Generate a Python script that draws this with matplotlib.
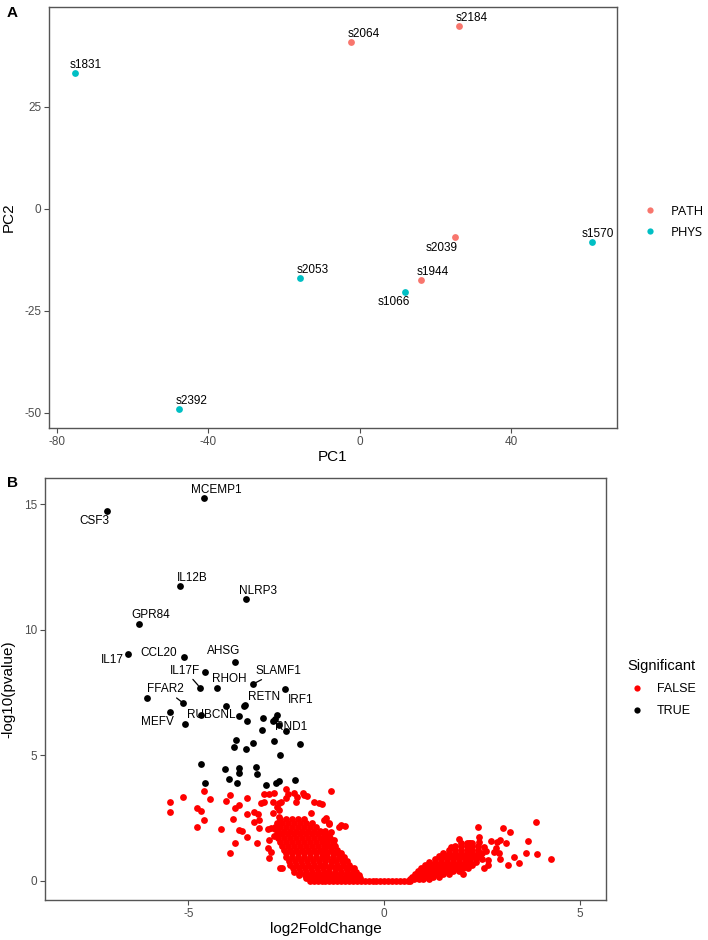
import matplotlib
matplotlib.use("Agg")
import matplotlib.pyplot as plt
from matplotlib.lines import Line2D

plt.rcParams["font.family"] = ["Liberation Sans", "DejaVu Sans"]
plt.rcParams["axes.unicode_minus"] = False

# ---- panel A: PCA ----
samples = ["s1831", "s2064", "s2184", "s2039", "s1570", "s1944", "s1066", "s2053", "s2392"]
groups = ["PHYS", "PATH", "PATH", "PATH", "PHYS", "PATH", "PHYS", "PHYS", "PHYS"]
pc1 = [-75.2, -2.2, 26.2, 25.1, 61.3, 16.2, 12.1, -15.9, -47.7]
pc2 = [33.3, 41.0, 44.9, -7.0, -8.2, -17.4, -20.3, -17.0, -49.1]

# ---- panel B: volcano, significant genes ----
sig_lfc = [-4.60, -7.07, -5.22, -3.54, -6.27, -6.54, -5.12, -3.80, -4.57, -4.70,
           -4.28, -3.34, -2.53, -6.06, -5.13, -3.58, -3.55, -4.04, -5.48, -5.08,
           -4.67, -3.70, -3.50, -3.10, -3.12, -2.75, -2.84, -2.79, -2.69, -2.50,
           -3.78, -3.83, -3.53, -3.34, -2.81, -2.14, -2.65, -4.68, -4.06, -3.71,
           -3.71, -3.27, -3.26, -3.96, -4.57, -3.75, -3.01, -2.77, -2.69, -2.27]
sig_p = [15.27, 14.74, 11.73, 11.24, 10.25, 9.03, 8.90, 8.74, 8.34, 7.70,
         7.68, 7.85, 7.66, 7.29, 7.08, 6.95, 7.00, 6.96, 6.71, 6.27,
         6.60, 6.55, 6.37, 6.47, 6.03, 6.61, 6.39, 6.45, 6.22, 5.99,
         5.61, 5.33, 5.24, 5.51, 5.59, 5.46, 5.02, 4.64, 4.46, 4.50,
         4.29, 4.55, 4.25, 4.05, 3.90, 3.90, 3.84, 3.92, 4.00, 4.01]
sig_names = {0: "MCEMP1", 1: "CSF3", 2: "IL12B", 3: "NLRP3", 4: "GPR84", 5: "IL17",
             6: "CCL20", 7: "AHSG", 9: "IL17F", 10: "RHOH", 11: "SLAMF1", 12: "IRF1",
             14: "FFAR2", 15: "RETN", 18: "MEFV", 20: "RUBCNL", 28: "RND1"}

# ---- panel B: non-significant genes (scattered ones) ----
ns_lfc = [-5.47, -5.48, -5.14, -4.78, -4.69, -4.59, -4.78, -4.59, -4.44, -4.18,
          -4.04, -3.94, -3.94, -3.87, -3.81, -3.81, -3.70, -3.72, -3.64, -3.50,
          -3.50, -3.50, -3.33, -3.23, -3.32, -3.19, -3.21, -3.25, -3.08, -2.93,
          -2.81, -3.15, -3.06, -2.85, -2.74, -2.97, -2.90, -2.80, -2.72, -2.96,
          -2.89, -2.93, -2.65, -2.93, -2.81, -2.68, -2.68, -2.68, -2.62, -2.51,
          -2.46, -2.50, -2.63, -2.30, -2.07, -2.23, -2.25, -2.04, -1.96, -1.79,
          -1.67, -1.60, -1.36, -1.87, -1.53, -1.49, -1.40, -1.36, -1.10, -1.15,
          -1.28, -1.28, -1.42, -2.85, -1.00,
          3.87, 2.38, 3.02, 3.21, 2.41, 1.91, 2.72, 2.95, 3.10, 3.67,
          1.70, 2.19, 2.93, 3.61, 3.91, 4.25, 2.96, 3.30, 3.15, 3.43,
          2.64, 2.64, 2.55, 2.00, 2.80, 2.85, 2.55, 2.45, 2.60, 2.89,
          2.42, 2.17]
ns_p = [3.13, 2.74, 3.34, 2.89, 2.80, 2.42, 2.14, 3.57, 3.27, 2.07,
        3.20, 3.43, 1.13, 2.47, 2.92, 1.53, 3.03, 2.04, 2.00, 3.30,
        2.66, 1.74, 2.76, 2.65, 2.36, 2.43, 2.10, 1.53, 3.47, 3.47,
        3.51, 3.10, 3.16, 2.70, 2.94, 2.07, 2.10, 2.05, 2.10, 1.30,
        1.17, 0.90, 0.51, 1.63, 1.77, 3.10, 2.83, 2.56, 0.51, 3.65,
        3.47, 3.32, 3.13, 3.49, 3.52, 3.33, 3.16, 3.43, 3.39, 3.16,
        3.10, 3.05, 3.60, 2.72, 2.43, 2.50, 2.30, 1.96, 2.23, 2.16,
        1.63, 1.43, 2.27, 3.16, 2.19,
        2.36, 2.14, 2.10, 1.94, 1.73, 1.66, 1.61, 1.63, 1.50, 1.58,
        1.34, 1.53, 1.10, 1.10, 1.06, 0.86, 0.86, 0.94, 0.64, 0.70,
        0.84, 0.64, 0.51, 0.28, 1.15, 1.30, 1.35, 1.00, 1.20, 1.56,
        1.57, 1.53]

# ---- panel B: dense non-significant cloud, listed row by row (-log10 p, lfc values) ----
cloud_rows = [
    (2.45, [-2.65, -2.5, -2.35, -2.2, -2.05]),
    (2.30, [-2.75, -2.6, -2.45, -2.3, -2.15, -2.0, -1.85]),
    (2.15, [-2.8, -2.65, -2.5, -2.35, -2.2, -2.05, -1.9, -1.75]),
    (2.00, [-2.7, -2.55, -2.4, -2.25, -2.1, -1.95, -1.8, -1.65, -1.5]),
    (1.85, [-2.75, -2.6, -2.45, -2.3, -2.15, -2.0, -1.85, -1.7, -1.55, -1.42]),
    (1.70, [-2.7, -2.55, -2.4, -2.25, -2.1, -1.95, -1.8, -1.65, -1.5, -1.38]),
    (1.55, [-2.65, -2.5, -2.35, -2.2, -2.05, -1.9, -1.75, -1.6, -1.45, -1.32]),
    (1.40, [-2.6, -2.45, -2.3, -2.15, -2.0, -1.85, -1.7, -1.55, -1.4, -1.26]),
    (1.25, [-2.55, -2.4, -2.25, -2.1, -1.95, -1.8, -1.65, -1.5, -1.35, -1.2]),
    (1.10, [-2.5, -2.35, -2.2, -2.05, -1.9, -1.75, -1.6, -1.45, -1.3, -1.17, -1.1]),
    (0.95, [-2.5, -2.35, -2.2, -2.05, -1.9, -1.75, -1.6, -1.45, -1.3, -1.15, -1.02]),
    (0.80, [-2.42, -2.27, -2.12, -1.97, -1.82, -1.67, -1.52, -1.37, -1.22, -1.07, -0.95]),
    (0.65, [-2.4, -2.25, -2.1, -1.95, -1.8, -1.65, -1.5, -1.35, -1.2, -1.05, -0.9]),
    (0.50, [-2.32, -2.17, -2.02, -1.87, -1.72, -1.57, -1.42, -1.27, -1.12, -0.97, -0.85, -0.78]),
    (0.35, [-2.3, -2.15, -2.0, -1.85, -1.7, -1.55, -1.4, -1.25, -1.1, -0.95, -0.8, -0.72]),
    (0.22, [-2.18, -2.03, -1.88, -1.73, -1.58, -1.43, -1.28, -1.13, -0.98, -0.84, -0.7, -0.65]),
    (0.10, [-2.0, -1.85, -1.7, -1.55, -1.4, -1.25, -1.1, -0.95, -0.8, -0.68, -0.62]),
    (0.00, [-1.9, -1.8, -1.7, -1.6, -1.5, -1.4, -1.3, -1.2, -1.1, -1.0, -0.9, -0.8, -0.7,
            -0.6, -0.5, -0.4, -0.3, -0.2, -0.1, 0.0, 0.1, 0.2, 0.3, 0.4, 0.5, 0.6, 0.65]),
    (0.07, [0.65, 0.75, 0.88, 1.0, 1.15]),
    (0.16, [0.7, 0.82, 0.95, 1.1, 1.25, 1.4]),
    (0.28, [0.78, 0.92, 1.05, 1.2, 1.35, 1.5, 1.65]),
    (0.40, [0.85, 1.0, 1.15, 1.3, 1.45, 1.6, 1.75, 1.9]),
    (0.52, [0.95, 1.1, 1.25, 1.4, 1.55, 1.7, 1.85, 2.0, 2.15]),
    (0.64, [1.05, 1.2, 1.35, 1.5, 1.65, 1.8, 1.95, 2.1, 2.25]),
    (0.76, [1.15, 1.3, 1.45, 1.6, 1.75, 1.9, 2.05, 2.2, 2.35]),
    (0.88, [1.3, 1.45, 1.6, 1.75, 1.9, 2.05, 2.2, 2.35, 2.5]),
    (1.00, [1.4, 1.55, 1.7, 1.85, 2.0, 2.15, 2.3, 2.45]),
    (1.12, [1.5, 1.65, 1.8, 1.95, 2.1, 2.25, 2.4, 2.5]),
    (1.25, [1.65, 1.8, 1.95, 2.1, 2.25, 2.4]),
    (1.38, [1.8, 1.95, 2.1, 2.25, 2.4]),
    (1.50, [1.95, 2.1, 2.25]),
]

group_colors = {"PATH": "#F8766D", "PHYS": "#00BFC4"}
tick_color = "#4D4D4D"
frame_color = "#555555"
dot = 24

fig = plt.figure(figsize=(7.08, 9.40), dpi=100)


def style_axes(ax):
    for sp in ax.spines.values():
        sp.set_color(frame_color)
        sp.set_linewidth(1.0)
    ax.tick_params(axis="both", direction="out", length=3.5, width=0.8, pad=2,
                   color=tick_color, labelcolor=tick_color, labelsize=8.5)


# ---------- A ----------
axA = fig.add_axes([49 / 708, 1 - 428 / 940, 568 / 708, 421 / 940])
for g in ["PATH", "PHYS"]:
    xs = [x for x, gg in zip(pc1, groups) if gg == g]
    ys = [y for y, gg in zip(pc2, groups) if gg == g]
    axA.scatter(xs, ys, s=dot, color=group_colors[g], linewidths=0, label=g, zorder=3)

# label offsets in pixels (ggrepel-like placement)
a_offsets = {"s1831": (11, 8), "s2064": (12, 8), "s2184": (13, 8), "s2039": (-13, -11),
             "s1570": (6, 8), "s1944": (12, 8), "s1066": (-12, -10), "s2053": (13, 8),
             "s2392": (12, 8)}
for name, x, y in zip(samples, pc1, pc2):
    axA.annotate(name, (x, y), xytext=a_offsets[name], textcoords="offset pixels",
                 ha="center", va="center", fontsize=8.5, color="black")

axA.set_xlim(-82.1, 68)
axA.set_ylim(-53.7, 49.5)
axA.set_xticks([-80, -40, 0, 40])
axA.set_yticks([-50, -25, 0, 25])
axA.set_xlabel("PC1", fontsize=11, labelpad=2)
axA.set_ylabel("PC2", fontsize=11, labelpad=6)
style_axes(axA)

handlesA = [Line2D([], [], marker="o", ls="", markersize=4.5, markeredgewidth=0,
                   color=group_colors[g], label=g) for g in ["PATH", "PHYS"]]
axA.legend(handles=handlesA, loc="center left", bbox_to_anchor=(1.046, 0.49),
           frameon=False, borderpad=0, borderaxespad=0, handlelength=1.0,
           handletextpad=1.1, labelspacing=0.6,
           prop={"family": "Open Sans", "size": 9.5})

# ---------- B ----------
axB = fig.add_axes([45 / 708, 1 - 900 / 940, 561 / 708, 422 / 940])
cloud_lfc = [x for y, xs in cloud_rows for x in xs]
cloud_p = [y for y, xs in cloud_rows for x in xs]
axB.scatter(cloud_lfc, cloud_p, s=dot, color="red", linewidths=0, zorder=2)
axB.scatter(ns_lfc, ns_p, s=dot, color="red", linewidths=0, zorder=2)
axB.scatter(sig_lfc, sig_p, s=dot, color="black", linewidths=0, zorder=3)

b_offsets = {"MCEMP1": (12, 8), "CSF3": (-13, -10), "IL12B": (12, 8), "NLRP3": (12, 8),
             "GPR84": (12, 9), "IL17": (-16, -6), "CCL20": (-25, 4), "AHSG": (-12, 11),
             "IL17F": (-15, 17), "RHOH": (13, 9), "SLAMF1": (25, 13), "IRF1": (16, -11),
             "RETN": (20, 9), "FFAR2": (-18, 14), "MEFV": (-12, -10), "RUBCNL": (10, 0),
             "RND1": (12, -2)}
with_segment = {"IL17F", "SLAMF1", "FFAR2"}
for i, name in sig_names.items():
    kw = {}
    if name in with_segment:
        kw["arrowprops"] = dict(arrowstyle="-", color="black", lw=0.9, shrinkA=0, shrinkB=2)
    axB.annotate(name, (sig_lfc[i], sig_p[i]), xytext=b_offsets[name],
                 textcoords="offset pixels", ha="center", va="center",
                 fontsize=8.5, color="black", **kw)

axB.set_xlim(-8.66, 5.66)
axB.set_ylim(-0.76, 16.05)
axB.set_xticks([-5, 0, 5])
axB.set_yticks([0, 5, 10, 15])
axB.set_xlabel("log2FoldChange", fontsize=11, labelpad=2)
axB.set_ylabel("-log10(pvalue)", fontsize=11, labelpad=6)
style_axes(axB)

handlesB = [Line2D([], [], marker="o", ls="", markersize=4.5, markeredgewidth=0,
                   color=c, label=l) for c, l in [("red", "FALSE"), ("black", "TRUE")]]
legB = axB.legend(handles=handlesB, loc="center left", bbox_to_anchor=(1.0374, 0.502),
                  frameon=False, borderpad=0, borderaxespad=0, handlelength=1.6,
                  handletextpad=0.8, labelspacing=0.8, fontsize=9,
                  title="Significant", title_fontsize=10.5)
legB._legend_box.align = "left"

fig.text(12 / 708, 1 - 13 / 940, "A", fontsize=11, fontweight="bold", ha="center", va="center")
fig.text(12 / 708, 1 - 483 / 940, "B", fontsize=11, fontweight="bold", ha="center", va="center")

fig.savefig("out.png", dpi=100)
